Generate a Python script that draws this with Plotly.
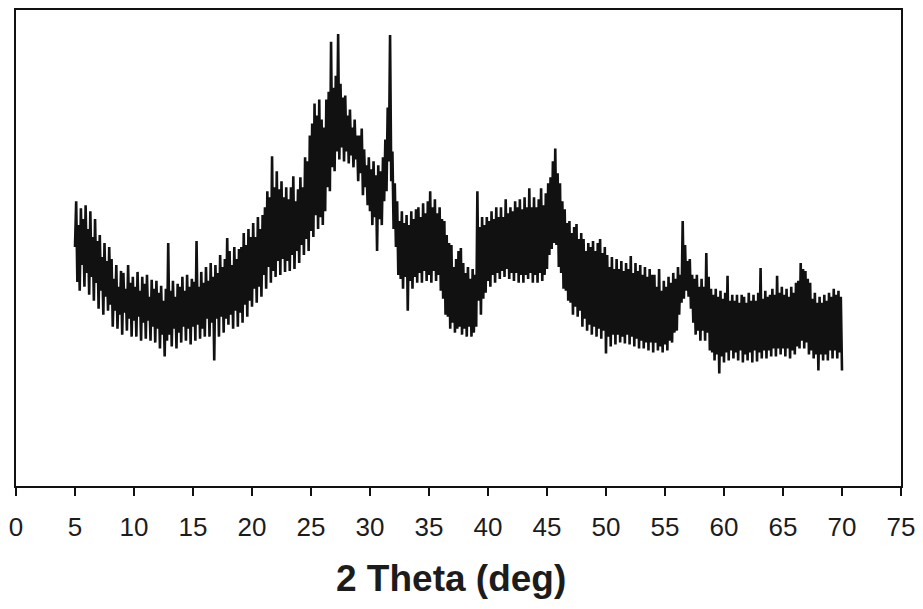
import numpy as np
import plotly.graph_objects as go

# Diffraction scan: 2-theta from 5.0 to 70.0 deg in 0.1 deg steps
two_theta_start = 5.0
two_theta_step = 0.1

# Intensity (arb. units), one row per degree (n.0 ... n.9)
intensity = [
    240, 286, 205, 262, 196, 279, 222, 268, 200, 282,   # 5
    214, 258, 192, 276, 210, 250, 186, 268, 204, 246,   # 6
    178, 252, 196, 230, 172, 244, 190, 226, 176, 240,   # 7
    182, 228, 160, 208, 176, 222, 158, 200, 172, 216,   # 8
    152, 214, 174, 198, 156, 222, 168, 204, 150, 210,   # 9
    166, 200, 150, 215, 170, 196, 146, 210, 164, 203,   # 10
    148, 212, 166, 190, 146, 207, 160, 198, 144, 206,   # 11
    158, 194, 138, 201, 152, 186, 130, 198, 146, 244,   # 12
    152, 196, 140, 206, 158, 190, 138, 203, 154, 200,   # 13
    144, 210, 160, 196, 146, 212, 158, 200, 142, 208,   # 14
    160, 205, 146, 246, 162, 200, 148, 215, 158, 204,   # 15
    150, 220, 168, 206, 150, 224, 164, 210, 126, 222,   # 16
    168, 214, 150, 232, 170, 220, 154, 228, 168, 249,   # 17
    162, 236, 172, 222, 158, 240, 176, 228, 160, 238,   # 18
    174, 240, 164, 254, 182, 242, 170, 258, 186, 250,   # 19
    180, 264, 198, 250, 184, 270, 200, 258, 190, 272,   # 20
    212, 280, 198, 296, 220, 290, 204, 331, 216, 300,   # 21
    210, 316, 226, 298, 212, 306, 228, 290, 215, 300,   # 22
    226, 288, 216, 300, 232, 311, 218, 286, 236, 298,   # 23
    224, 310, 242, 300, 232, 330, 248, 326, 236, 352,   # 24
    256, 364, 250, 384, 272, 372, 258, 388, 270, 368,   # 25
    262, 360, 276, 388, 300, 396, 296, 446, 320, 400,   # 26
    316, 412, 336, 454, 328, 404, 340, 390, 326, 392,   # 27
    336, 372, 324, 378, 332, 360, 320, 368, 328, 352,   # 28
    306, 352, 314, 359, 292, 338, 300, 322, 282, 330,   # 29
    276, 318, 262, 326, 270, 312, 236, 322, 268, 316,   # 30
    262, 330, 286, 348, 296, 380, 326, 453, 306, 336,   # 31
    258, 304, 240, 286, 212, 266, 208, 276, 198, 264,   # 32
    210, 272, 176, 262, 206, 276, 198, 268, 210, 278,   # 33
    204, 280, 214, 270, 204, 284, 216, 274, 206, 286,   # 34
    212, 296, 204, 280, 216, 288, 206, 274, 212, 280,   # 35
    196, 268, 188, 266, 172, 252, 170, 244, 158, 242,   # 36
    164, 220, 154, 228, 158, 236, 160, 239, 152, 224,   # 37
    158, 214, 150, 220, 160, 208, 150, 218, 154, 212,   # 38
    160, 296, 186, 260, 172, 270, 188, 262, 194, 270,   # 39
    206, 266, 200, 276, 212, 268, 204, 280, 214, 270,   # 40
    208, 280, 216, 270, 210, 288, 218, 274, 208, 280,   # 41
    214, 276, 206, 286, 214, 280, 204, 288, 212, 278,   # 42
    204, 290, 212, 280, 208, 299, 214, 280, 204, 290,   # 43
    212, 280, 204, 288, 214, 299, 206, 282, 212, 294,   # 44
    218, 304, 232, 310, 238, 326, 244, 339, 242, 314,   # 45
    220, 304, 214, 286, 198, 278, 196, 264, 186, 266,   # 46
    184, 254, 172, 260, 180, 263, 170, 248, 176, 254,   # 47
    160, 248, 168, 236, 156, 244, 162, 240, 152, 246,   # 48
    160, 236, 150, 244, 158, 248, 148, 234, 156, 240,   # 49
    133, 232, 150, 220, 140, 230, 152, 218, 142, 228,   # 50
    152, 218, 144, 226, 150, 216, 143, 224, 152, 218,   # 51
    142, 231, 150, 214, 140, 224, 148, 216, 138, 222,   # 52
    146, 212, 138, 220, 144, 210, 136, 218, 144, 212,   # 53
    134, 212, 144, 200, 136, 218, 140, 196, 134, 206,   # 54
    142, 200, 136, 210, 146, 204, 144, 214, 154, 208,   # 55
    156, 220, 172, 212, 184, 266, 188, 242, 196, 226,   # 56
    190, 228, 178, 212, 164, 208, 152, 212, 156, 200,   # 57
    146, 208, 156, 200, 146, 234, 154, 210, 136, 198,   # 58
    134, 192, 126, 198, 132, 190, 113, 196, 130, 188,   # 59
    124, 194, 134, 211, 126, 186, 136, 192, 128, 186,   # 60
    134, 192, 126, 184, 136, 192, 124, 190, 132, 184,   # 61
    126, 194, 134, 186, 124, 192, 136, 186, 125, 194,   # 62
    134, 219, 128, 188, 136, 196, 128, 190, 136, 192,   # 63
    130, 198, 138, 192, 130, 211, 138, 194, 132, 200,   # 64
    138, 192, 130, 198, 138, 190, 128, 200, 136, 194,   # 65
    132, 204, 140, 206, 138, 224, 146, 218, 138, 216,   # 66
    144, 208, 132, 204, 136, 188, 128, 194, 132, 184,   # 67
    116, 190, 132, 184, 126, 192, 132, 186, 126, 194,   # 68
    136, 190, 128, 198, 136, 192, 128, 196, 134, 190,   # 69
    116,                                                 # 70.0
]

two_theta = np.round(two_theta_start + two_theta_step * np.arange(len(intensity)), 2)

x_ticks = list(range(0, 80, 5))
x_title = "2 Theta (deg)"

fig = go.Figure()
fig.add_trace(go.Scatter(
    x=two_theta, y=intensity, mode="lines",
    line=dict(color="#111111", width=2.6),
    hoverinfo="skip", showlegend=False,
))

axis_font = dict(family="Arial, Liberation Sans, sans-serif", size=26, color="#1c1c1c")

fig.update_layout(
    width=923, height=609,
    margin=dict(l=16, r=21, t=8, b=123),
    paper_bgcolor="white", plot_bgcolor="white",
    xaxis=dict(
        range=[0, 75], tickvals=x_ticks, ticktext=[str(t) for t in x_ticks],
        showline=True, linecolor="#111111", linewidth=2, mirror=True,
        ticks="outside", ticklen=8, tickwidth=2, tickcolor="#111111",
        ticklabelstandoff=9,
        showgrid=False, zeroline=False, tickfont=axis_font,
    ),
    yaxis=dict(
        range=[0, 478], showticklabels=False, ticks="",
        showline=True, linecolor="#111111", linewidth=2, mirror=True,
        showgrid=False, zeroline=False,
    ),
    annotations=[dict(
        text="<b>" + x_title + "</b>", xref="paper", yref="paper",
        x=0.492, y=-0.1946, xanchor="center", yanchor="middle", showarrow=False,
        font=dict(family="Arial, Liberation Sans, sans-serif", size=37, color="#1c1c1c"),
    )],
)

fig.write_html("out.html")
